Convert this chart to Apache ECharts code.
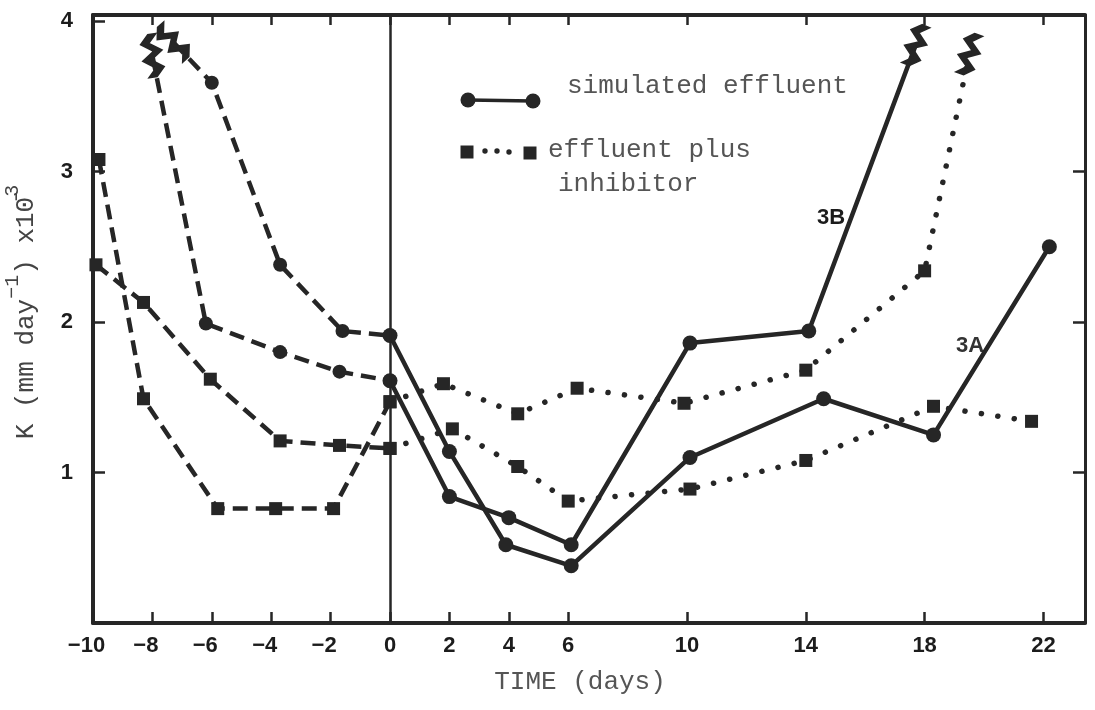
<!DOCTYPE html>
<html>
<head>
<meta charset="utf-8">
<script src="https://cdn.jsdelivr.net/npm/echarts@6/dist/echarts.min.js"></script>
<style>
  html, body { margin: 0; padding: 0; background: #fff; }
  #chart { width: 1095px; height: 710px; }
</style>
</head>
<body>
<div id="chart"></div>
<script>
// Uptake rate K (x10^-3 mm/day) against time; influent switched at day 0.

// Axis ticks
const tickDays = [-10, -8, -6, -4, -2, 0, 2, 4, 6, 10, 14, 18, 22];
const kTicks = [1, 2, 3, 4];

// Before day 0 (dashed curves)
const preCircleUpperDays = [-7.3, -6.0, -3.7, -1.6, 0];
const preCircleUpperK    = [3.86, 3.59, 2.38, 1.94, 1.91];
const preCircleLowerDays = [-8.0, -6.2, -3.7, -1.7, 0];
const preCircleLowerK    = [3.77, 1.99, 1.80, 1.67, 1.61];
const preSquareUpperDays = [-9.8, -8.3, -5.8, -3.85, -1.9, 0];
const preSquareUpperK    = [3.08, 1.49, 0.76, 0.76, 0.76, 1.47];
const preSquareLowerDays = [-9.9, -8.3, -6.05, -3.7, -1.7, 0];
const preSquareLowerK    = [2.38, 2.13, 1.62, 1.21, 1.18, 1.16];

// Simulated effluent (solid)
const effluent3ADays = [0, 2.0, 3.9, 6.1, 10.1, 14.6, 18.3, 22.2];
const effluent3AK    = [1.91, 1.14, 0.52, 0.38, 1.10, 1.49, 1.25, 2.50];
const effluent3BDays = [0, 2.0, 4.0, 6.1, 10.1, 14.1, 17.7];
const effluent3BK    = [1.61, 0.84, 0.70, 0.52, 1.86, 1.94, 3.84];

// Effluent plus inhibitor (dotted)
const inhibitor3BDays = [0, 1.8, 4.3, 6.3, 9.9, 14.0, 18.0, 19.5];
const inhibitor3BK    = [1.47, 1.59, 1.39, 1.56, 1.46, 1.68, 2.34, 3.78];
const inhibitor3ADays = [0, 2.1, 4.3, 6.0, 10.1, 14.0, 18.3, 21.6];
const inhibitor3AK    = [1.16, 1.29, 1.04, 0.81, 0.89, 1.08, 1.44, 1.34];

const INK = '#262626';
const MONO = '"Liberation Mono", "DejaVu Sans Mono", monospace';
const SANS = '"Liberation Sans", Arial, sans-serif';
// off-scale break mark (thick zigzag)
const ZIGZAG = 'path://M8,0 L0,8 L12,16 L0,24 L12,32 L4,40 L12,40 L20,32 L8,24 L20,16 L8,8 L16,0 Z';

function pairs(days, ks) { return days.map((d, i) => [d, ks[i]]); }
function breakAt(data, idx, rotate) {
  data[idx] = {
    value: data[idx], symbol: ZIGZAG, symbolSize: [20, 42], symbolRotate: rotate,
    itemStyle: { color: INK, borderColor: INK, borderWidth: 1.5 }
  };
  return data;
}

const DASHED = { type: [15, 8], width: 4.5, color: INK };
const SOLID = { type: 'solid', width: 4.5, color: INK };
const DOTTED = { type: [0.1, 16.5], width: 5.5, cap: 'round', color: INK };

function curve(name, data, lineStyle, symbol, size, extra) {
  return Object.assign({
    name, type: 'line', data, symbol, symbolSize: size,
    showAllSymbol: true, lineStyle, itemStyle: { color: INK },
    silent: true, animation: false, z: 3
  }, extra || {});
}

const series = [
  curve('pre circles upper', breakAt(pairs(preCircleUpperDays, preCircleUpperK), 0, 42), DASHED, 'circle', 14, {
    markLine: {
      silent: true, symbol: ['none', 'none'], label: { show: false },
      lineStyle: { color: INK, width: 2.5, type: 'solid' },
      data: [{ xAxis: 0 }]
    }
  }),
  curve('pre circles lower', breakAt(pairs(preCircleLowerDays, preCircleLowerK), 0, 8), DASHED, 'circle', 14),
  curve('pre squares upper', pairs(preSquareUpperDays, preSquareUpperK), DASHED, 'rect', 13),
  curve('pre squares lower', pairs(preSquareLowerDays, preSquareLowerK), DASHED, 'rect', 13),
  curve('3A simulated effluent', pairs(effluent3ADays, effluent3AK), SOLID, 'circle', 15),
  curve('3B simulated effluent', breakAt(pairs(effluent3BDays, effluent3BK), effluent3BDays.length - 1, -22), SOLID, 'circle', 15),
  curve('3B effluent plus inhibitor', breakAt(pairs(inhibitor3BDays, inhibitor3BK), inhibitor3BDays.length - 1, -20), DOTTED, 'rect', 13),
  curve('3A effluent plus inhibitor', pairs(inhibitor3ADays, inhibitor3AK), DOTTED, 'rect', 13)
];

const chart = echarts.init(document.getElementById('chart'), null, { renderer: 'canvas' });
chart.setOption({
  backgroundColor: '#fff',
  animation: false,
  grid: { left: 93, right: 10, top: 15, bottom: 87, containLabel: false, outerBoundsMode: 'none' },
  xAxis: [
    {
      type: 'value', position: 'bottom', min: -10, max: 23.4,
      axisLine: { show: true, onZero: false, lineStyle: { color: INK, width: 4 } },
      axisTick: { show: true, inside: true, length: 11, customValues: tickDays, lineStyle: { color: INK, width: 2.5 } },
      axisLabel: {
        show: true, customValues: tickDays, margin: 12,
        fontFamily: SANS, fontWeight: 'bold', fontSize: 22, color: '#1c1c1c',
        formatter: v => (v < 0 ? '{n|\u2212' + (-v) + '}' : String(v)),
        rich: { n: { padding: [0, 13, 0, 0], fontFamily: SANS, fontWeight: 'bold', fontSize: 22, color: '#1c1c1c' } }
      },
      splitLine: { show: false },
      name: 'TIME (days)', nameLocation: 'middle', nameGap: 46,
      nameTextStyle: { fontFamily: MONO, fontSize: 26, color: '#555', padding: [0, 18, 0, 0] }
    },
    {
      type: 'value', position: 'top', min: -10, max: 23.4,
      axisLine: { show: true, onZero: false, lineStyle: { color: INK, width: 4 } },
      axisTick: { show: true, inside: true, length: 10, customValues: tickDays, lineStyle: { color: INK, width: 2.5 } },
      axisLabel: { show: false }, splitLine: { show: false }
    }
  ],
  yAxis: [
    {
      type: 'value', position: 'left', min: 0, max: 4.04,
      axisLine: { show: true, onZero: false, lineStyle: { color: INK, width: 4 } },
      axisTick: { show: true, inside: true, length: 12, customValues: kTicks, lineStyle: { color: INK, width: 2.5 } },
      axisLabel: {
        show: true, customValues: kTicks, margin: 20,
        fontFamily: SANS, fontWeight: 'bold', fontSize: 22, color: '#1c1c1c'
      },
      splitLine: { show: false },
      name: '{m|K (mm day}{s|\u22121}{m|) x10\u0304}{s|3}',
      nameLocation: 'middle', nameGap: 44, nameRotate: 90,
      nameTextStyle: {
        fontFamily: MONO, fontSize: 26, color: '#444', lineHeight: 46, padding: [0, 0, 0, 14],
        rich: {
          m: { fontFamily: MONO, fontSize: 26, color: '#444', lineHeight: 46 },
          s: { fontFamily: MONO, fontSize: 20, color: '#444', verticalAlign: 'top' }
        }
      }
    },
    {
      type: 'value', position: 'right', min: 0, max: 4.04,
      axisLine: { show: true, onZero: false, lineStyle: { color: INK, width: 3 } },
      axisTick: { show: true, inside: true, length: 12, customValues: [1, 2, 3], lineStyle: { color: INK, width: 2.5 } },
      axisLabel: { show: false }, splitLine: { show: false }
    }
  ],
  series,
  graphic: [
    // legend: simulated effluent
    { type: 'line', silent: true, shape: { x1: 468, y1: 100, x2: 533, y2: 101 }, style: { stroke: INK, lineWidth: 3.5 } },
    { type: 'circle', silent: true, shape: { cx: 468, cy: 100, r: 7.5 }, style: { fill: INK } },
    { type: 'circle', silent: true, shape: { cx: 533, cy: 101, r: 7.5 }, style: { fill: INK } },
    { type: 'text', silent: true, x: 567, y: 86, style: { text: 'simulated effluent', font: '26px ' + MONO, fill: '#555', verticalAlign: 'middle' } },
    // legend: effluent plus inhibitor
    { type: 'rect', silent: true, shape: { x: 460.5, y: 145.5, width: 13, height: 13 }, style: { fill: INK } },
    { type: 'circle', silent: true, shape: { cx: 485, cy: 151, r: 2.7 }, style: { fill: INK } },
    { type: 'circle', silent: true, shape: { cx: 497, cy: 151, r: 2.7 }, style: { fill: INK } },
    { type: 'circle', silent: true, shape: { cx: 509, cy: 152, r: 2.7 }, style: { fill: INK } },
    { type: 'rect', silent: true, shape: { x: 523.5, y: 146.5, width: 13, height: 13 }, style: { fill: INK } },
    { type: 'text', silent: true, x: 548, y: 150, style: { text: 'effluent plus', font: '26px ' + MONO, fill: '#555', verticalAlign: 'middle' } },
    { type: 'text', silent: true, x: 558, y: 184, style: { text: 'inhibitor', font: '26px ' + MONO, fill: '#555', verticalAlign: 'middle' } },
    // curve labels
    { type: 'text', silent: true, x: 831, y: 218, style: { text: '3B', font: 'bold 22px ' + SANS, fill: '#1c1c1c', align: 'center', verticalAlign: 'middle' } },
    { type: 'text', silent: true, x: 970, y: 346, style: { text: '3A', font: 'bold 22px ' + SANS, fill: '#333', align: 'center', verticalAlign: 'middle' } }
  ]
});
</script>
</body>
</html>
